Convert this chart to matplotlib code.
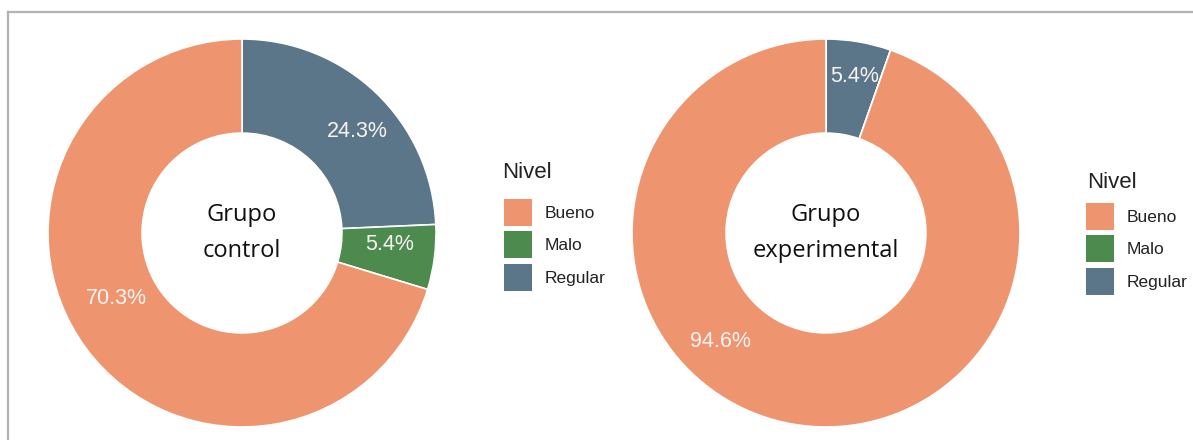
import numpy as np
import matplotlib.pyplot as plt
from matplotlib.patches import Patch
from matplotlib.lines import Line2D

niveles = ['Bueno', 'Malo', 'Regular']
colores = {'Bueno': '#EE9570', 'Malo': '#4C8A4E', 'Regular': '#5B7688'}

# wedge order clockwise from the top
orden = ['Regular', 'Malo', 'Bueno']
control = [24.3, 5.4, 70.3]
experimental = [5.4, 0.0, 94.6]
titulos = ['Grupo\ncontrol', 'Grupo\nexperimental']

# where the percentage labels sit (degrees clockwise from top, radius)
pos_control = [(48.7, 0.79), (94.6, 0.765), (242.3, 0.73)]
pos_experimental = [(10.5, 0.82), None, (224.2, 0.78)]

W, H = 1193, 440
fig = plt.figure(figsize=(W / 100, H / 100), dpi=100)

def donut(left, valores, titulo, posiciones):
    ax = fig.add_axes([left / W, (H - 427) / H, 388 / W, 388 / H])
    ax.set_aspect('equal')
    ax.pie(valores, colors=[colores[n] for n in orden], startangle=90,
           counterclock=False, radius=1,
           wedgeprops=dict(width=0.485, edgecolor='white', linewidth=1.2))
    for v, p in zip(valores, posiciones):
        if v <= 0 or p is None:
            continue
        a = np.deg2rad(p[0])
        ax.text(p[1] * np.sin(a), p[1] * np.cos(a), '%.1f%%' % v,
                ha='center', va='center', color='#f8f4f2', fontsize=15.5,
                family='Liberation Sans')
    ax.set_xlim(-1, 1)
    ax.set_ylim(-1, 1)
    ax.text(0, 0.0, titulo, ha='center', va='center', fontsize=17,
            family='Open Sans', color='#111111', linespacing=1.65)
    return ax

donut(48, control, titulos[0], pos_control)
donut(632, experimental, titulos[1], pos_experimental)

handles = [Patch(facecolor=colores[n], edgecolor='none') for n in niveles]
# (title x, title center y, key x, first key top y) in pixels
for tx, ty, kx, ky in [(502, 172, 504, 199), (1087, 182, 1086, 203)]:
    fig.text(tx / W, 1 - ty / H, 'Nivel', ha='left', va='center',
             fontsize=16, family='Liberation Sans', color='#222222')
    leg = fig.legend(handles, niveles, loc='upper left',
                     bbox_to_anchor=(kx / W, 1 - ky / H), frameon=False,
                     handlelength=1.6, handleheight=2.0, labelspacing=0.32,
                     handletextpad=0.75, borderpad=0, borderaxespad=0,
                     prop={'family': 'Liberation Sans', 'size': 12.5})
    for t in leg.get_texts():
        t.set_color('#222222')

# frame lines (top and left)
fig.add_artist(Line2D([8 / W, 1], [1 - 12 / H, 1 - 12 / H], color='#b3b3b3', lw=1.6))
fig.add_artist(Line2D([8 / W, 8 / W], [0, 1 - 12 / H], color='#b3b3b3', lw=1.6))

fig.savefig('out.png', dpi=100)
